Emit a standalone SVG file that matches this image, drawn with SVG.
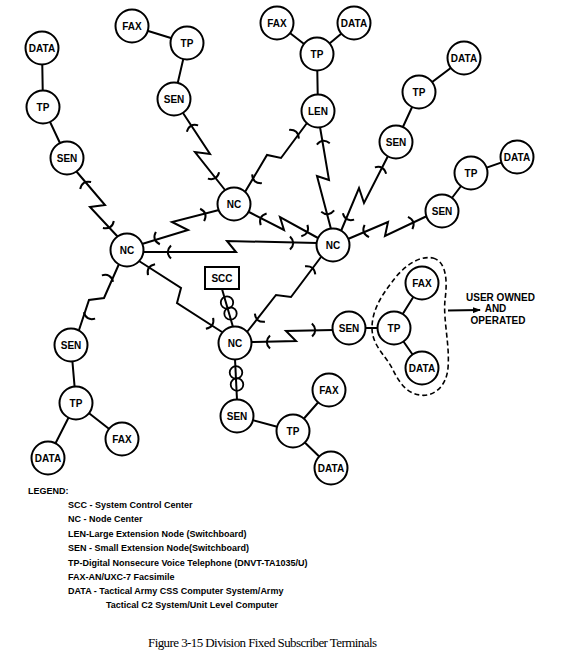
<svg xmlns="http://www.w3.org/2000/svg" xmlns:xlink="http://www.w3.org/1999/xlink" width="575" height="662" viewBox="0 0 575 662">
<style>
.bg{fill:#fff}
.ln{fill:none;stroke:#000;stroke-width:2;stroke-linejoin:miter}
.nd circle{fill:#fff;stroke:#000;stroke-width:2}
.nd rect{fill:#fff;stroke:#000;stroke-width:2}
.nd text{font-family:"Liberation Sans",Arial,sans-serif;font-weight:bold;font-size:10px;text-anchor:middle;fill:#000}
.lg{font-family:"Liberation Sans",Arial,sans-serif;font-weight:bold;font-size:9px;fill:#000}
.note{font-family:"Liberation Sans",Arial,sans-serif;font-weight:bold;font-size:10px;fill:#000;text-anchor:middle}
.cap{font-family:"Liberation Serif","Times New Roman",serif;font-size:13px;fill:#000}
.loop{fill:none;stroke:#000;stroke-width:1.8}
</style>
<defs>
<path id="tk" d="M-3,-6.5 Q3.5,0 -3,6.5" fill="none" stroke="#000" stroke-width="2"/>
<marker id="ah" markerWidth="8" markerHeight="6" refX="7" refY="3" orient="auto" markerUnits="userSpaceOnUse">
<path d="M0,0 L8,3 L0,6 Z" fill="#000"/>
</marker>
</defs>
<rect class="bg" x="0" y="0" width="575" height="662"/>

<g id="connectors">
<path class="ln" d="M42,48 L43,107 L67,158"/>
<path class="ln" d="M132,26 L187,43 L174,99"/>
<path class="ln" d="M277,23 L317,54 L354,23 M317,54 L318,111"/>
<path class="ln" d="M464,58 L419,92 L396,142"/>
<path class="ln" d="M517,157 L471,173 L442,211"/>
<path class="ln" d="M349,328 L394,328 L422,283 M394,328 L422,368"/>
<path class="ln" d="M71,345 L76,403 L122,439 M76,403 L48,458"/>
<path class="ln" d="M237,416 L293,431 L329,390 M293,431 L331,468"/>

<path class="ln" d="M76,171 L105,205 L90,207 L118,237"/>
<use href="#tk" transform="translate(84,183) rotate(-123)"/>
<use href="#tk" transform="translate(110,227) rotate(57)"/>

<path class="ln" d="M183,113 L210,154 L195,152 L225,190"/>
<use href="#tk" transform="translate(191,126) rotate(-120)"/>
<use href="#tk" transform="translate(215,178) rotate(60)"/>

<path class="ln" d="M307,123 L281,158 L267,155 L245,192"/>
<use href="#tk" transform="translate(296,132) rotate(-48)"/>
<use href="#tk" transform="translate(255,181) rotate(132)"/>

<path class="ln" d="M320,127 L329,180 L317,176 L331,229"/>
<use href="#tk" transform="translate(323,141) rotate(-96)"/>
<use href="#tk" transform="translate(328,214) rotate(84)"/>

<path class="ln" d="M388,156 L364,203 L359,188 L341,231"/>
<use href="#tk" transform="translate(382,168) rotate(-60)"/>
<use href="#tk" transform="translate(347,219) rotate(120)"/>

<path class="ln" d="M427,216 L385,236 L388,222 L348,239"/>
<use href="#tk" transform="translate(413,222) rotate(-20)"/>
<use href="#tk" transform="translate(364,232) rotate(160)"/>

<path class="ln" d="M219,210 L172,222 L188,230 L142,244"/>
<use href="#tk" transform="translate(205,214) rotate(-18)"/>
<use href="#tk" transform="translate(155,239) rotate(162)"/>

<path class="ln" d="M249,212 L284,230 L280,217 L318,238"/>
<use href="#tk" transform="translate(261,218) rotate(-153)"/>
<use href="#tk" transform="translate(307,232) rotate(28)"/>

<path class="ln" d="M143,252 L236,252 L227,241 L317,243"/>
<use href="#tk" transform="translate(168,252) rotate(180)"/>
<use href="#tk" transform="translate(293,243) rotate(0)"/>

<path class="ln" d="M119,264 L104,298 L89,300 L79,330"/>
<use href="#tk" transform="translate(109,276) rotate(-60)"/>
<use href="#tk" transform="translate(88,318) rotate(120)"/>

<path class="ln" d="M139,261 L181,288 L177,303 L222,332"/>
<use href="#tk" transform="translate(149,268) rotate(-147)"/>
<use href="#tk" transform="translate(212,325) rotate(34)"/>

<path class="ln" d="M321,257 L291,297 L276,295 L247,332"/>
<use href="#tk" transform="translate(312,268) rotate(-52)"/>
<use href="#tk" transform="translate(258,320) rotate(129)"/>

<path class="ln" d="M333,330 L286,331 L296,341 L251,342"/>
<use href="#tk" transform="translate(315,330) rotate(-1)"/>
<use href="#tk" transform="translate(267,342) rotate(180)"/>

<path class="ln" d="M222,289 L233,327"/>
<circle class="loop" cx="227" cy="302.5" r="6.2"/>
<circle class="loop" cx="230.5" cy="313.5" r="6.2"/>
<path class="ln" d="M235,359 L237,400"/>
<circle class="loop" cx="236" cy="372.5" r="6.3"/>
<circle class="loop" cx="237" cy="384.5" r="6.3"/>

<path class="ln" d="M448,310.5 L480,310" stroke-width="1.6" marker-end="url(#ah)"/>
</g>

<g id="group-user" fill="none" stroke="#000" stroke-width="1.6" stroke-dasharray="5,3">
<path d="M433,258 C448,262 447,285 445,300 C443,320 450,345 448,368 C446,390 430,397 420,395 C405,393 398,380 392,368 C385,355 372,345 372,328 C372,310 382,295 392,282 C402,268 418,255 433,258 Z"/>
</g>

<g id="n-data1" class="nd"><circle cx="42" cy="48" r="16.5"/><text x="42" y="51.5">DATA</text></g>
<g id="n-tp1" class="nd"><circle cx="43" cy="107" r="16.5"/><text x="43" y="110.5">TP</text></g>
<g id="n-sen1" class="nd"><circle cx="67" cy="158" r="16.5"/><text x="67" y="161.5">SEN</text></g>
<g id="n-fax2" class="nd"><circle cx="132" cy="26" r="16.5"/><text x="132" y="29.5">FAX</text></g>
<g id="n-tp2" class="nd"><circle cx="187" cy="43" r="16.5"/><text x="187" y="46.5">TP</text></g>
<g id="n-sen2" class="nd"><circle cx="174" cy="99" r="16.5"/><text x="174" y="102.5">SEN</text></g>
<g id="n-fax3" class="nd"><circle cx="277" cy="23" r="16.5"/><text x="277" y="26.5">FAX</text></g>
<g id="n-data3" class="nd"><circle cx="354" cy="23" r="16.5"/><text x="354" y="26.5">DATA</text></g>
<g id="n-tp3" class="nd"><circle cx="317" cy="54" r="16.5"/><text x="317" y="57.5">TP</text></g>
<g id="n-len" class="nd"><circle cx="318" cy="111" r="16.5"/><text x="318" y="114.5">LEN</text></g>
<g id="n-data4" class="nd"><circle cx="464" cy="58" r="16.5"/><text x="464" y="61.5">DATA</text></g>
<g id="n-tp4" class="nd"><circle cx="419" cy="92" r="16.5"/><text x="419" y="95.5">TP</text></g>
<g id="n-sen4" class="nd"><circle cx="396" cy="142" r="16.5"/><text x="396" y="145.5">SEN</text></g>
<g id="n-data5" class="nd"><circle cx="517" cy="157" r="16.5"/><text x="517" y="160.5">DATA</text></g>
<g id="n-tp5" class="nd"><circle cx="471" cy="173" r="16.5"/><text x="471" y="176.5">TP</text></g>
<g id="n-sen5" class="nd"><circle cx="442" cy="211" r="16.5"/><text x="442" y="214.5">SEN</text></g>
<g id="n-nc-upper" class="nd"><circle cx="234" cy="204" r="16.5"/><text x="234" y="207.5">NC</text></g>
<g id="n-nc-left" class="nd"><circle cx="127" cy="250" r="16.5"/><text x="127" y="253.5">NC</text></g>
<g id="n-nc-right" class="nd"><circle cx="333" cy="245" r="16.5"/><text x="333" y="248.5">NC</text></g>
<g id="n-nc-lower" class="nd"><circle cx="235" cy="343" r="16.5"/><text x="235" y="346.5">NC</text></g>
<g id="n-scc" class="nd"><rect x="205" y="267" width="34" height="22"/><text x="222" y="281.5">SCC</text></g>
<g id="n-sen6" class="nd"><circle cx="71" cy="345" r="16.5"/><text x="71" y="348.5">SEN</text></g>
<g id="n-tp6" class="nd"><circle cx="76" cy="403" r="16.5"/><text x="76" y="406.5">TP</text></g>
<g id="n-fax6" class="nd"><circle cx="122" cy="439" r="16.5"/><text x="122" y="442.5">FAX</text></g>
<g id="n-data6" class="nd"><circle cx="48" cy="458" r="16.5"/><text x="48" y="461.5">DATA</text></g>
<g id="n-sen7" class="nd"><circle cx="349" cy="328" r="16.5"/><text x="349" y="331.5">SEN</text></g>
<g id="n-tp7" class="nd"><circle cx="394" cy="328" r="16.5"/><text x="394" y="331.5">TP</text></g>
<g id="n-fax7" class="nd"><circle cx="422" cy="283" r="16.5"/><text x="422" y="286.5">FAX</text></g>
<g id="n-data7" class="nd"><circle cx="422" cy="368" r="16.5"/><text x="422" y="371.5">DATA</text></g>
<g id="n-sen8" class="nd"><circle cx="237" cy="416" r="16.5"/><text x="237" y="419.5">SEN</text></g>
<g id="n-tp8" class="nd"><circle cx="293" cy="431" r="16.5"/><text x="293" y="434.5">TP</text></g>
<g id="n-fax8" class="nd"><circle cx="329" cy="390" r="16.5"/><text x="329" y="393.5">FAX</text></g>
<g id="n-data8" class="nd"><circle cx="331" cy="468" r="16.5"/><text x="331" y="471.5">DATA</text></g>

<g id="note">
<text class="note" x="500.5" y="300.5">USER OWNED</text>
<text class="note" x="495.5" y="312">AND</text>
<text class="note" x="498" y="323.5">OPERATED</text>
</g>

<g id="legend">
<text class="lg" x="28" y="494">LEGEND:</text>
<text class="lg" x="68" y="507.5">SCC - System Control Center</text>
<text class="lg" x="68" y="522">NC - Node Center</text>
<text class="lg" x="68" y="536.5">LEN-Large Extension Node (Switchboard)</text>
<text class="lg" x="68" y="551">SEN - Small Extension Node(Switchboard)</text>
<text class="lg" x="68" y="565.5">TP-Digital Nonsecure Voice Telephone (DNVT-TA1035/U)</text>
<text class="lg" x="68" y="580">FAX-AN/UXC-7 Facsimile</text>
<text class="lg" x="68" y="594">DATA - Tactical Army CSS Computer System/Army</text>
<text class="lg" x="106" y="608">Tactical C2 System/Unit Level Computer</text>
</g>

<text class="cap" x="148" y="647" textLength="229">Figure 3-15 Division Fixed Subscriber Terminals</text>
</svg>
